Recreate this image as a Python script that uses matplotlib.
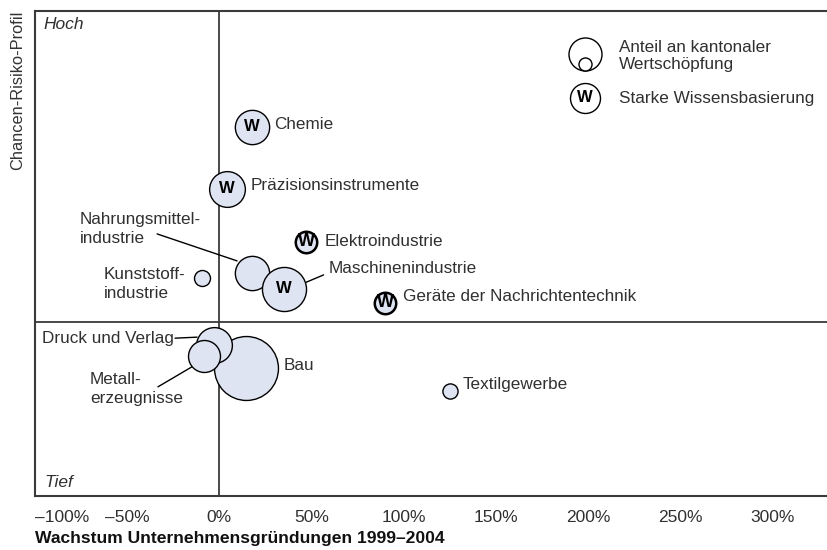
import matplotlib.pyplot as plt
from matplotlib.transforms import offset_copy

plt.rcParams['font.family'] = ['Liberation Sans', 'DejaVu Sans']

# Branchen, Wachstum der Gründungen (%), Chancen-Risiko-Profil (0-100), Anteil Wertschöpfung (%)
branchen = ["Chemie", "Präzisionsinstrumente", "Elektroindustrie", "Nahrungsmittel-\nindustrie",
            "Maschinenindustrie", "Kunststoff-\nindustrie", "Geräte der Nachrichtentechnik",
            "Bau", "Druck und Verlag", "Metall-\nerzeugnisse", "Textilgewerbe"]
wachstum = [17.7, 4.1, 47.0, 17.7, 34.8, -9.2, 89.9, 14.4, -2.9, -8.4, 125.1]
profil = [76.1, 63.3, 52.4, 46.0, 42.7, 44.9, 39.8, 26.4, 31.1, 28.9, 21.6]
anteil = [2.3, 2.5, 0.9, 2.3, 3.8, 0.5, 0.9, 8.0, 2.5, 2.0, 0.45]
wissen = [True, True, True, False, True, False, True, False, False, False, False]
grenze = 35.9

x_ticks = [-100, -50, 0, 50, 100, 150, 200, 250, 300]
x_labels = ["–100%", "–50%", "0%", "50%", "100%", "150%", "200%", "250%", "300%"]

# label offsets from the bubble centre, in pixels (x right, y down)
label_pos = {
    "Chemie": (22, -2, "left"),
    "Präzisionsinstrumente": (24, -3, "left"),
    "Elektroindustrie": (19, 0, "left"),
    "Nahrungsmittel-\nindustrie": (-172, -44, "left"),
    "Maschinenindustrie": (45, -20, "left"),
    "Kunststoff-\nindustrie": (-99, 6, "left"),
    "Geräte der Nachrichtentechnik": (18, -6, "left"),
    "Bau": (38, -2, "left"),
    "Druck und Verlag": (-40, -7, "right"),
    "Metall-\nerzeugnisse": (-114, 33, "left"),
    "Textilgewerbe": (12, -7, "left"),
}
# leader lines: start and end offsets from the bubble centre, pixels
leaders = {
    "Nahrungsmittel-\nindustrie": ((-95, -39), (-15, -12)),
    "Maschinenindustrie": ((40, -14), (21, -6)),
    "Druck und Verlag": ((-39, -7), (-17, -8)),
    "Metall-\nerzeugnisse": ((-46, 31), (-12, 11)),
}

ink = '#303030'
fill = '#dfe4f2'
fs = 12.3

fig = plt.figure(figsize=(8.28, 5.5), dpi=100)
ax = fig.add_axes([35 / 828, 1 - 496 / 550, 793 / 828, 485 / 550])
ax.set_xlim(-100, 330)
ax.set_ylim(0, 100)

for side in ['left', 'top', 'bottom']:
    ax.spines[side].set_color('#3a3a3a')
    ax.spines[side].set_linewidth(1.5)
ax.spines['right'].set_visible(False)

ax.axvline(0, color='#3a3a3a', lw=1.3, zorder=1)
ax.axhline(grenze, color='#3a3a3a', lw=1.3, zorder=1)

ax.set_xticks(x_ticks, x_labels)
ax.set_yticks([])
ax.tick_params(axis='x', length=0, pad=10, labelsize=12.5, labelcolor=ink)
ax.get_xticklabels()[0].set_horizontalalignment('left')

ax.set_ylabel("Chancen-Risiko-Profil", loc='top', fontsize=11.8, color='#333333', labelpad=7)
fig.text(35 / 828, 1 - 538 / 550, "Wachstum Unternehmensgründungen 1999–2004",
         fontsize=12.6, fontweight='bold', color='#111111', va='center', ha='left')

ax.text(0.0113, 0.973, "Hoch", transform=ax.transAxes, style='italic', fontsize=12.5,
        color=ink, va='center')
ax.text(0.0113, 0.027, "Tief", transform=ax.transAxes, style='italic', fontsize=12.5,
        color=ink, va='center')

for i, name in enumerate(branchen):
    x, y = wachstum[i], profil[i]
    small = anteil[i] < 1.2
    lw = 1.8 if (wissen[i] and small) else 1.0
    ax.scatter([x], [y], s=265 * anteil[i], color=fill, edgecolor='black',
               linewidth=lw, zorder=3 + i * 0.01)
    if wissen[i]:
        ax.text(x, y, "W", fontsize=13 if small else 12, fontweight='bold',
                ha='center', va='center', color='black', zorder=4)
    dx, dy, ha = label_pos[name]
    ax.text(x, y, name, transform=offset_copy(ax.transData, fig=fig, x=dx, y=-dy, units='dots'),
            ha=ha, va='center', fontsize=fs, color=ink, linespacing=1.29, zorder=5)
    if name in leaders:
        (sx, sy), (ex, ey) = leaders[name]
        ax.annotate("", xy=(x, y),
                    xycoords=offset_copy(ax.transData, fig=fig, x=ex, y=-ey, units='dots'),
                    xytext=(x, y),
                    textcoords=offset_copy(ax.transData, fig=fig, x=sx, y=-sy, units='dots'),
                    arrowprops=dict(arrowstyle='-', color='black', lw=1.0,
                                    shrinkA=0, shrinkB=0))

# legend drawn by hand in the top right corner
def ax_frac(px, py):
    return (px - 35) / 793, (496 - py) / 485

lx, ly = ax_frac(585, 54)
ax.scatter([lx], [ly], s=565, color='white', edgecolor='black', lw=1.0,
           transform=ax.transAxes, zorder=6)
lx, ly = ax_frac(585, 64)
ax.scatter([lx], [ly], s=88, color='white', edgecolor='black', lw=1.0,
           transform=ax.transAxes, zorder=7)
lx, ly = ax_frac(585, 98)
ax.scatter([lx], [ly], s=466, color='white', edgecolor='black', lw=1.0,
           transform=ax.transAxes, zorder=6)
ax.text(lx, ly, "W", fontsize=12, fontweight='bold', ha='center', va='center',
        transform=ax.transAxes, zorder=7)
tx, ty = ax_frac(619, 56)
ax.text(tx, ty, "Anteil an kantonaler\nWertschöpfung", transform=ax.transAxes,
        fontsize=fs, color=ink, va='center', ha='left', linespacing=1.25)
tx, ty = ax_frac(619, 98)
ax.text(tx, ty, "Starke Wissensbasierung", transform=ax.transAxes,
        fontsize=fs, color=ink, va='center', ha='left')

fig.savefig("out.png", dpi=100)
